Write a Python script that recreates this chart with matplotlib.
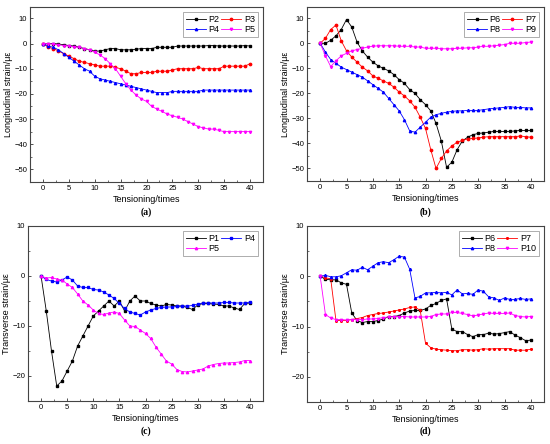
import matplotlib
matplotlib.use("Agg")
import matplotlib.pyplot as plt
from matplotlib.ticker import MultipleLocator

plt.rcParams['font.family'] = ['Liberation Sans', 'DejaVu Sans']

x = list(range(41))

# (a) Longitudinal strain
a_P2 = [0,0,0,-0.2,-0.5,-0.8,-1,-1.5,-2,-2.5,-3,-3,-2.5,-2,-2,-2.5,-2.5,-2.5,-2.3,-2,-2,-2,-1.5,-1.5,-1.5,-1.5,-1,-1,-1,-1,-1,-1,-0.8,-0.8,-1,-1,-1,-1,-1,-0.8,-1]
a_P3 = [0,-1.5,-2,-3,-4,-5,-6,-7,-7.5,-8,-8.5,-9,-9,-9,-9.5,-10,-11,-12,-12,-11.5,-11.5,-11.5,-11,-11,-11,-10.5,-10,-10,-10,-10,-9.5,-10,-10,-10,-10,-9,-9,-9,-9,-9,-8]
a_P4 = [0,-1,-1.5,-2.5,-4,-5.5,-7,-8.5,-10,-11,-13,-14,-14.5,-15,-15.5,-16,-16.5,-17,-17.5,-18,-18.5,-19,-19.5,-19.5,-19.5,-19,-19,-19,-19,-19,-19,-18.5,-18.5,-18.5,-18.5,-18.5,-18.5,-18.5,-18.5,-18.5,-18.5]
a_P5 = [0,0,-0.3,-0.5,-0.8,-1,-1.3,-1.5,-2,-2.5,-3.5,-4.5,-6,-8,-10,-13,-16,-18.5,-20.5,-22,-23,-25,-26,-27,-28,-28.7,-29.3,-30,-31,-32,-33,-33.5,-34,-34,-34.5,-35,-35,-35,-35,-35,-35]

# (b) Longitudinal strain
b_P6 = [0,0,1.2,3,5.5,9.5,6.5,0.5,-3,-5.5,-7.5,-9,-10,-11,-12.5,-14.5,-16,-18.5,-20,-22.5,-24.5,-27,-32,-39,-49.5,-47.5,-42.5,-39,-37.5,-36.5,-36,-35.8,-35.5,-35.2,-35.2,-35.2,-35.2,-35,-34.8,-34.8,-34.8]
b_P7 = [0,2,5.5,7.3,1,-3,-5.5,-7.5,-9.5,-11,-13,-14,-15,-16,-17.5,-19.5,-21,-23,-25.5,-29.5,-34,-42.5,-50,-46,-43,-41,-39.5,-38.8,-38.2,-38,-37.8,-37.5,-37.3,-37.3,-37.3,-37.3,-37.3,-37.3,-37,-37.3,-37.5]
b_P8 = [0,-3.5,-6.5,-8,-9.5,-10.5,-11.5,-12.5,-13.5,-15,-16.5,-18,-19.5,-22,-24.5,-27,-30.5,-35,-35.5,-33.5,-31.5,-29.5,-28.5,-28,-27.5,-27.2,-27,-27,-26.8,-26.8,-26.8,-26.5,-26.2,-26,-25.8,-25.6,-25.3,-25.6,-25.6,-25.8,-25.8]
b_P9 = [0,-5,-9.3,-7,-5,-4,-3,-2.5,-2,-1.5,-1.2,-1,-1,-1,-1,-1.2,-1.2,-1.2,-1.5,-1.5,-2,-2,-2,-2.2,-2.2,-2.2,-2,-2,-1.8,-1.8,-1.5,-1.2,-1.2,-1,-0.8,-0.5,0,0,0,0.3,0.5]

# (c) Transverse strain
c_P1 = [0,-7,-15,-22,-21,-19,-17,-14,-12,-10,-8,-7,-6,-5,-6,-5,-7,-5,-4,-5,-5,-5.5,-5.8,-6,-5.7,-5.8,-6,-6,-6.3,-6.7,-5.8,-5.5,-5.5,-5.6,-5.7,-6,-6,-6.4,-6.7,-5.5,-5.4]
c_P4 = [0,-0.7,-1,-1.2,-0.8,-0.2,-0.8,-2,-2.3,-2.3,-2.7,-2.8,-3.2,-3.8,-4.5,-5.5,-6.5,-7.2,-7.5,-7.8,-7.2,-6.8,-6.5,-6.3,-6.2,-6.2,-6.1,-6,-6,-5.9,-5.6,-5.4,-5.4,-5.4,-5.4,-5.3,-5.3,-5.4,-5.4,-5.4,-5.2]
c_P5 = [0,-0.4,-0.3,-0.6,-0.8,-1.6,-2.3,-3.6,-5,-5.8,-6.8,-7.5,-7.7,-7.4,-7.2,-7.5,-8.8,-10,-10.1,-10.8,-11.5,-12.5,-14.2,-15.6,-17,-17.6,-18.7,-19.1,-19.2,-19,-18.8,-18.6,-18,-17.7,-17.5,-17.4,-17.4,-17.3,-17.2,-16.9,-16.9]

# (d) Transverse strain
d_P6 = [0,-0.6,-0.7,-0.7,-1.3,-1.6,-7.3,-8.8,-9.2,-9,-9,-8.8,-8.5,-8,-8,-7.8,-7.3,-6.9,-6.8,-6.8,-6.5,-5.8,-5.4,-4.8,-4.5,-10.5,-11,-11,-11.6,-12,-11.6,-11.6,-11.3,-11.5,-11.4,-11.2,-11,-11.7,-12.2,-12.8,-12.7]
d_P7 = [0,-0.3,-0.5,-8.8,-8.8,-8.8,-8.6,-8.4,-8.2,-7.8,-7.6,-7.4,-7.3,-7.1,-6.9,-6.7,-6.5,-6.2,-6.1,-6.8,-13.3,-14.2,-14.5,-14.6,-14.7,-14.8,-14.8,-14.6,-14.6,-14.7,-14.6,-14.4,-14.5,-14.4,-14.4,-14.4,-14.4,-14.7,-14.7,-14.7,-14.5]
d_P8 = [0,0.2,-0.1,-0.1,0.1,0.7,1.3,1.2,1.8,1.3,2,2.7,2.9,2.7,3.3,4,3.8,1.4,-4.3,-4,-3.3,-3.3,-3.2,-3.3,-3.2,-3.7,-2.7,-3.5,-3.4,-3.6,-2.7,-3,-4.1,-4.3,-4.8,-4.3,-4.6,-4.6,-4.4,-4.6,-4.5]
d_P10 = [0,-7.6,-8.3,-8.6,-8.6,-8.7,-8.6,-8.6,-8.6,-8.5,-8.5,-8.4,-8.2,-8.1,-8,-8,-8,-8.1,-8.1,-8.1,-8.1,-8,-7.6,-7.5,-7.5,-7.2,-7.2,-7.4,-7.6,-7.9,-7.7,-7.5,-7.3,-7.4,-7.4,-7.4,-7.3,-7.8,-8,-8.1,-8]

W, H = 550, 444
fig = plt.figure(figsize=(5.5, 4.44), dpi=100)

def rect(l, r, t, b):
    return [l / W, 1 - b / H, (r - l) / W, (b - t) / H]

BLACK, RED, BLUE, MAG = '#000000', '#FF0000', '#0000FF', '#FF00FF'

# legend_order: indices giving row-wise layout in a 2-column legend
panels = [
    (rect(30, 263, 7, 182), 'Longitudinal strain/με', (-55, 14.5), 10,
     [('P2', a_P2, BLACK, 's'), ('P3', a_P3, RED, 'o'), ('P4', a_P4, BLUE, '^'), ('P5', a_P5, MAG, 'v')],
     [0, 2, 1, 3], '(a)', 212),
    (rect(307, 544, 7, 181), 'Longitudinal strain/με', (-55, 14.5), 10,
     [('P6', b_P6, BLACK, 's'), ('P7', b_P7, RED, 'o'), ('P8', b_P8, BLUE, '^'), ('P9', b_P9, MAG, 'v')],
     [0, 2, 1, 3], '(b)', 212),
    (rect(28, 263, 226, 401), 'Transverse strain/με', (-25, 10), 10,
     [('P1', c_P1, BLACK, 's'), ('P4', c_P4, BLUE, 's'), ('P5', c_P5, MAG, '^')],
     [0, 2, 1], '(c)', 431),
    (rect(307, 544, 226, 402), 'Transverse strain/με', (-25, 10), 10,
     [('P6', d_P6, BLACK, 's'), ('P7', d_P7, RED, '*'), ('P8', d_P8, BLUE, '^'), ('P10', d_P10, MAG, 'v')],
     [0, 2, 1, 3], '(d)', 431),
]

for pos, ylabel, ylim, ymaj, series, order, tag, tag_y in panels:
    ax = fig.add_axes(pos)
    handles = []
    for name, vals, col, mk in series:
        h, = ax.plot(x, vals, color=col, lw=0.6, marker=mk, ms=1.7, mec=col, mfc=col, label=name)
        handles.append(h)
    ax.set_xlim(-2.5, 42.5)
    ax.set_ylim(*ylim)
    ax.xaxis.set_major_locator(MultipleLocator(5))
    ax.xaxis.set_minor_locator(MultipleLocator(2.5))
    ax.yaxis.set_major_locator(MultipleLocator(ymaj))
    ax.yaxis.set_minor_locator(MultipleLocator(ymaj / 2))
    ax.tick_params(which='both', direction='in', labelsize=5.5, color='#333333', pad=2)
    ax.tick_params(which='major', length=2.5, width=0.6)
    ax.tick_params(which='minor', length=1.5, width=0.5)
    for s in ax.spines.values():
        s.set_color('#444444')
        s.set_linewidth(0.8)
    ax.set_xlabel('Tensioning/times', fontsize=6.5, labelpad=2)
    ax.set_ylabel(ylabel, fontsize=6.5, labelpad=1)
    hs = [handles[i] for i in order]
    leg = ax.legend(hs, [h.get_label() for h in hs], loc='upper right', ncol=2, fontsize=6.5,
                    frameon=True, fancybox=False,
                    handlelength=2.2, handletextpad=0.3, columnspacing=0.2, labelspacing=0.1,
                    borderpad=0.3, borderaxespad=0.6, markerscale=1.0)
    leg.get_frame().set_edgecolor('#888888')
    leg.get_frame().set_linewidth(0.6)
    cx = (pos[0] + pos[2] / 2)
    fig.text(cx, 1 - tag_y / H, tag, fontsize=7, fontweight='bold',
             family=['Liberation Serif', 'DejaVu Serif'], ha='center', va='center')

fig.savefig('out.png', dpi=100)
